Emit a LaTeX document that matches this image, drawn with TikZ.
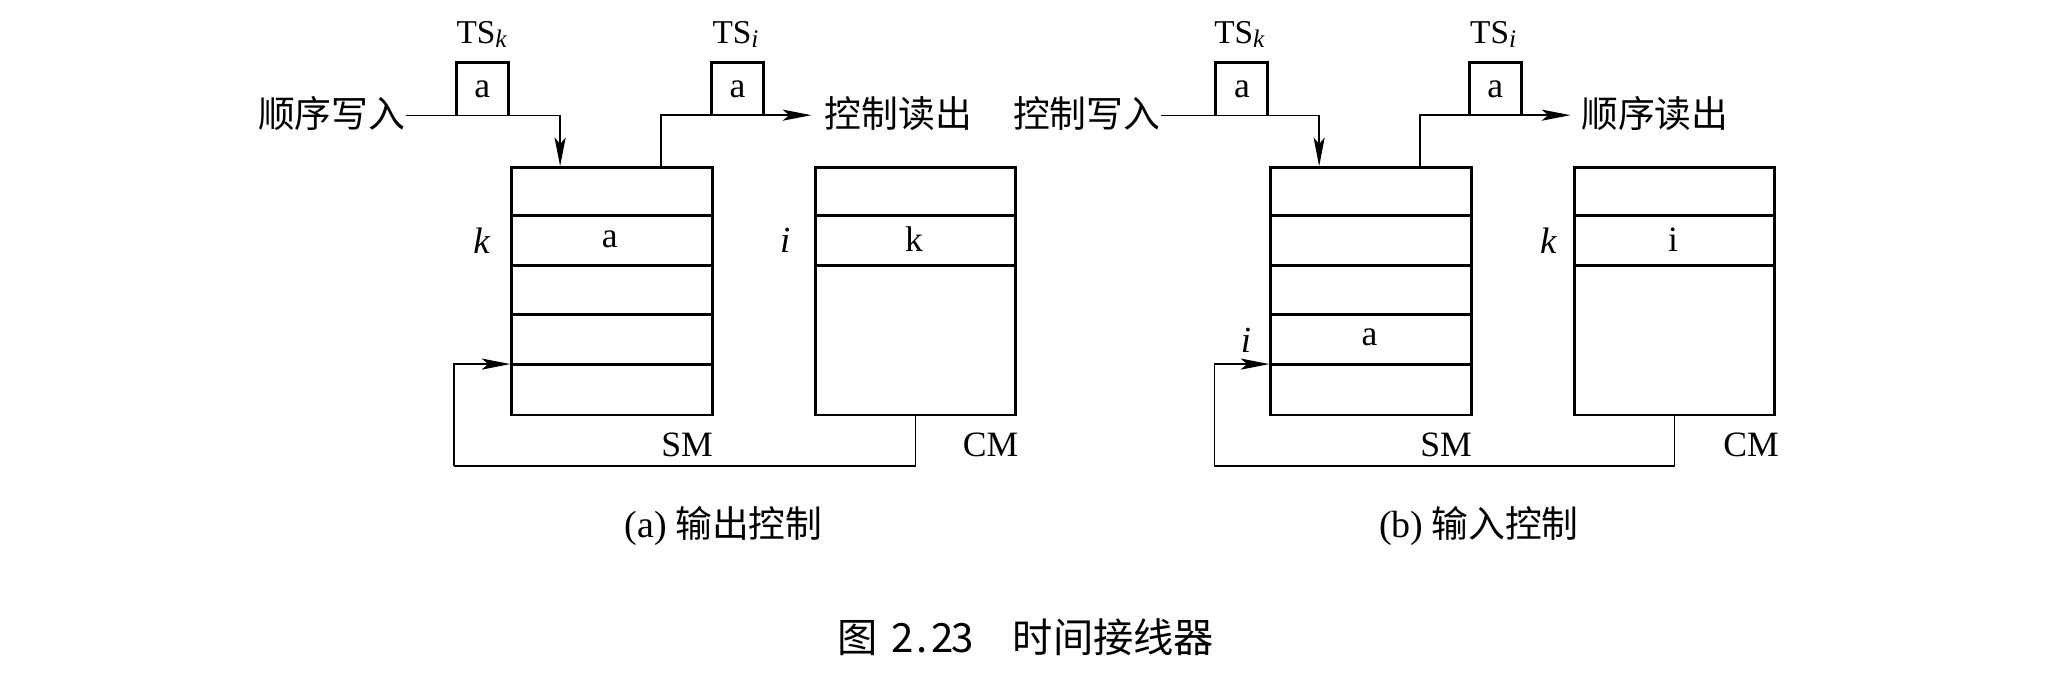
\documentclass[tikz,border=0pt]{standalone}
\usepackage{fontspec}
\setmainfont{Liberation Serif}
\newfontfamily\cjk{Noto Sans CJK SC}
\usetikzlibrary{arrows.meta}
\tikzset{
 boxline/.style={line width=1.3pt},
 memcell/.style={draw, line width=1.3pt, inner sep=0pt, minimum width=3.06cm, minimum height=3.78cm, anchor=north west},
 tsbox/.style={inner sep=0pt, minimum width=0.78cm, minimum height=0.8cm, font=\fontsize{15.5}{18}\selectfont},
 conn/.style={line width=0.6pt, -{Stealth[length=0.44cm,width=0.17cm,inset=0.1cm]}},
 wire/.style={line width=0.6pt},
 lat/.style={inner sep=0pt, font=\fontsize{15.5}{18}\selectfont},
 ital/.style={inner sep=0pt, font=\fontsize{16}{18}\selectfont\itshape},
 tslab/.style={inner sep=0pt, anchor=base, font=\fontsize{14.5}{16}\selectfont},
 zh/.style={inner sep=0pt, font=\fontsize{16}{18}\selectfont\cjk},
}
\newcommand{\subit}[1]{\raisebox{-0.25ex}{\fontsize{11}{12}\selectfont\itshape #1}}
\newcommand{\hw}[1]{\makebox[0.5em]{#1}}
\begin{document}
\begin{tikzpicture}[x=0.02cm,y=-0.02cm]
\useasboundingbox (0,0) rectangle (1568,518);

% ---------- panel (a) ----------
\node[memcell] (sma) at (390,127) {};
\node[memcell] (cma) at (622,127) {};
\foreach \yy in {164.8,202.6,240.4,278.2} \draw[boxline] (390,\yy) -- (543,\yy);
\foreach \yy in {164.8,202.6} \draw[boxline] (622,\yy) -- (775,\yy);

\node[tsbox] (tska) at (368.5,68) {a};
\draw[boxline] (tska.south west) -- (tska.north west) -- (tska.north east) -- (tska.south east);
\node[tslab] (tslka) at (368,33) {TS\subit{k}};
\node[tsbox] (tsia) at (563.5,68) {a};
\draw[boxline] (tsia.south west) -- (tsia.north west) -- (tsia.north east) -- (tsia.south east);
\node[tslab] (tslia) at (562,33) {TS\subit{i}};

\node[zh, anchor=east] (ina) at (310,87) {顺序写入};
\node[zh, anchor=west] (outa) at (630,87) {控制读出};
\coordinate (sma-in) at (428,127);
\coordinate (sma-out) at (505,127);
\coordinate (outa-end) at (620,88);
\draw[conn] (ina.east |- tska.south) -| (sma-in);
\draw[conn] (sma-out) |- (outa-end);

\node[ital] (ka) at (368,184) {k};
\node[ital] (ia) at (600,184) {i};
\node[lat] (aa) at (466,183) {a};
\node[lat] (kca) at (698.5,183) {k};

\coordinate (fba) at (347,356);
\coordinate (sma-fb) at (390,278.2);
\draw[wire] (cma.south) |- (fba);
\draw[conn] (fba) |- (sma-fb);

\node[lat] (sml-a) at (525,340) {SM};
\node[lat] (cml-a) at (757,340) {CM};
\node[zh] (capa) at (553,402) {{\rmfamily\fontsize{16.5}{18}\selectfont (a)} 输出控制};

% ---------- panel (b) ----------
\node[memcell] (smb) at (970,127) {};
\node[memcell] (cmb) at (1202,127) {};
\foreach \yy in {164.8,202.6,240.4,278.2} \draw[boxline] (970,\yy) -- (1123,\yy);
\foreach \yy in {164.8,202.6} \draw[boxline] (1202,\yy) -- (1355,\yy);

\node[tsbox] (tskb) at (949,68) {a};
\draw[boxline] (tskb.south west) -- (tskb.north west) -- (tskb.north east) -- (tskb.south east);
\node[tslab] (tslkb) at (947,33) {TS\subit{k}};
\node[tsbox] (tsib) at (1142.5,68) {a};
\draw[boxline] (tsib.south west) -- (tsib.north west) -- (tsib.north east) -- (tsib.south east);
\node[tslab] (tslib) at (1141,33) {TS\subit{i}};

\node[zh, anchor=east] (inb) at (887,87) {控制写入};
\node[zh, anchor=west] (outb) at (1208,87) {顺序读出};
\coordinate (smb-in) at (1008,127);
\coordinate (smb-out) at (1085,127);
\coordinate (outb-end) at (1200,88);
\draw[conn] (inb.east |- tskb.south) -| (smb-in);
\draw[conn] (smb-out) |- (outb-end);

\node[ital] (kb) at (1183,184) {k};
\node[lat] (icb) at (1278.5,183) {i};
\node[ital] (ib) at (952,260) {i};
\node[lat] (ab) at (1046.5,258) {a};

\coordinate (fbb) at (928,356);
\coordinate (smb-fb) at (970,278.2);
\draw[wire] (cmb.south) |- (fbb);
\draw[conn] (fbb) |- (smb-fb);

\node[lat] (sml-b) at (1105,340) {SM};
\node[lat] (cml-b) at (1338,340) {CM};
\node[zh] (capb) at (1130,402) {{\rmfamily\fontsize{16.5}{18}\selectfont (b)} 输入控制};

% ---------- caption ----------
\node[zh, font=\fontsize{17.5}{20}\selectfont\cjk] (fig) at (784,487) {图\hspace{0.35em}\hw{2}\hw{.}\hw{2}\hw{3}\hspace{1em}时间接线器};
\end{tikzpicture}
\end{document}
